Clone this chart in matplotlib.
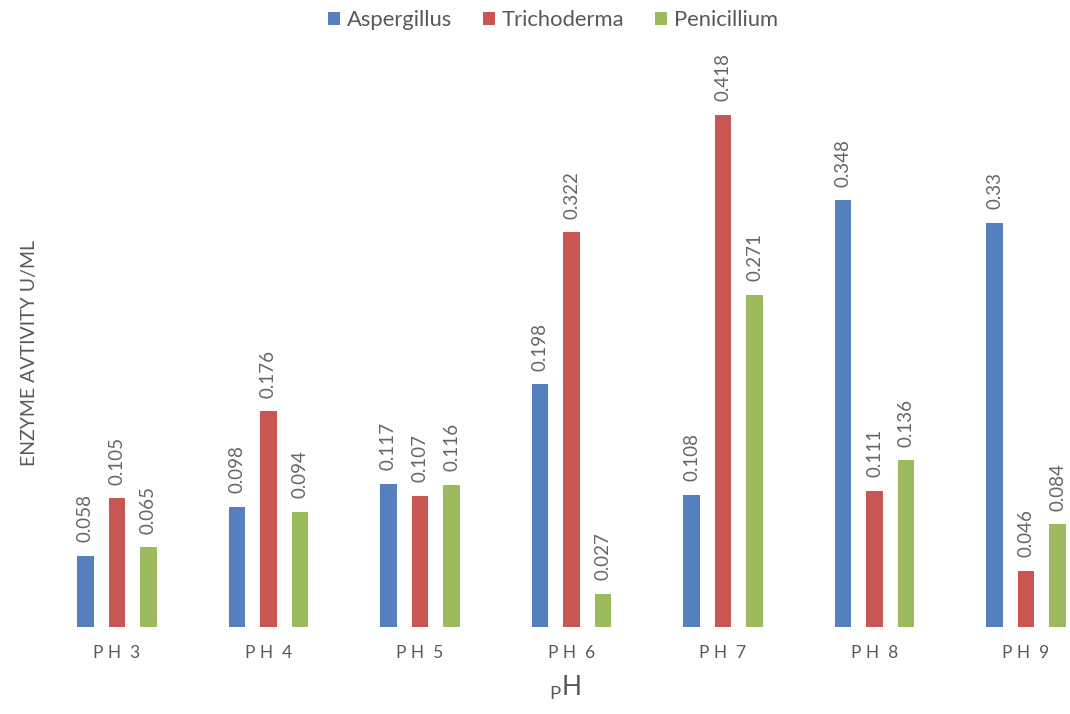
import matplotlib.pyplot as plt
import numpy as np

plt.rcParams['font.family'] = ['Lato', 'DejaVu Sans']

# Enzyme activity (U/ml) at each pH for the three fungi
ph_labels = ['P H  3', 'P H  4', 'P H  5', 'P H  6', 'P H  7', 'P H  8', 'P H  9']
aspergillus = [0.058, 0.098, 0.117, 0.198, 0.108, 0.348, 0.33]
trichoderma = [0.105, 0.176, 0.107, 0.322, 0.418, 0.111, 0.046]
penicillium = [0.065, 0.094, 0.116, 0.027, 0.271, 0.136, 0.084]

series = [
    ('Aspergillus', aspergillus, '#5680BD'),
    ('Trichoderma', trichoderma, '#C85653'),
    ('Penicillium', penicillium, '#9BBB5E'),
]

text_color = '#595959'
fig = plt.figure(figsize=(10.7, 7.14), dpi=100)
ax = fig.add_axes([60 / 1070, 87 / 714, 1010 / 1070, 527 / 714])

x = np.arange(len(ph_labels))
width = 0.11
offset = 0.208

for i, (name, vals, color) in enumerate(series):
    pos = x + (i - 1) * offset
    bars = ax.bar(pos, vals, width, color=color, label=name)
    for b, v in zip(bars, vals):
        ax.text(b.get_x() + b.get_width() / 2, v + 0.011, f'{v:g}',
                rotation=90, ha='center', va='bottom',
                fontsize=13.5, color='#666666')

ax.set_xlim(-0.376, 6.29)
ax.set_ylim(0, 0.43)

for s in ax.spines.values():
    s.set_visible(False)
ax.set_yticks([])
ax.set_xticks(x)
ax.set_xticklabels(ph_labels, fontsize=12.5, color=text_color)
ax.tick_params(axis='x', length=0, pad=13)

ax.set_xlabel(r'$_\mathregular{P}$H', fontsize=19, color=text_color, labelpad=9)
fig.text(30 / 1070, 1 - 353 / 714, 'ENZYME AVTIVITY U/ML', rotation=90,
         ha='center', va='center', fontsize=14, color=text_color)

fig.legend(loc='center', bbox_to_anchor=(553 / 1070, 1 - 20 / 714), ncol=3,
           frameon=False, fontsize=15.8, handlelength=0.55, handleheight=0.55,
           handletextpad=0.3, columnspacing=1.4, labelcolor=text_color)

fig.savefig('out.png', dpi=100)
